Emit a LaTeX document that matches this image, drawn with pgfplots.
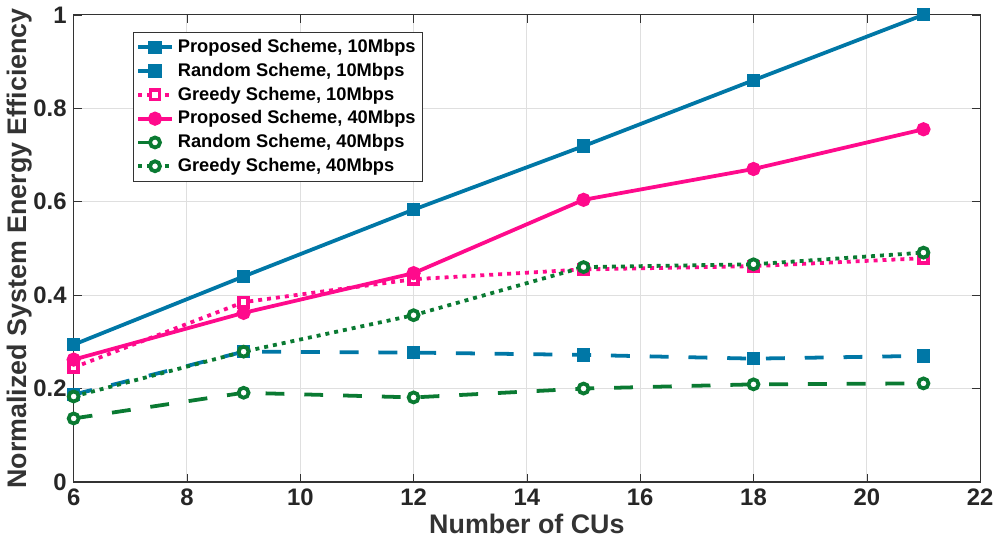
\documentclass[border=0pt]{standalone}
\usepackage{pgfplots}
\pgfplotsset{compat=1.18}
\usepackage{fontspec}
\setmainfont{Liberation Sans}
\definecolor{cblue}{RGB}{0,119,166}
\definecolor{cpink}{RGB}{255,10,140}
\definecolor{cgreen}{RGB}{10,122,50}
\begin{document}
\begin{tikzpicture}
\begin{axis}[
  scale only axis,
  width=456pt, height=235pt,
  xmin=6, xmax=22, ymin=0, ymax=1,
  xtick={6,8,...,22},
  ytick={0,0.2,0.4,0.6,0.8,1},
  yticklabels={0,0.2,0.4,0.6,0.8,1},
  grid=major,
  grid style={gray!25, line width=0.5pt},
  axis line style={black!80, line width=0.6pt},
  tick align=inside,
  major tick length=4pt,
  tick style={black!80},
  /pgf/number format/assume math mode=true,
  ticklabel style={font=\bfseries\fontsize{12}{12}\selectfont, text=black!85},
  xlabel={Number of CUs},
  ylabel={Normalized System Energy Efficiency},
  label style={font=\bfseries\fontsize{13.5}{14}\selectfont, text=black!80},
  xlabel style={yshift=3pt},
  ylabel style={yshift=-6pt},
  legend style={at={(rel axis cs:0.065,0.964)}, anchor=north west,
    font=\bfseries\fontsize{9.2}{11}\selectfont, draw=black!80, line width=0.6pt,
    row sep=-0.2pt, inner sep=1.5pt},
  legend cell align=left,
  every axis plot/.append style={line width=1.9pt},
]
\addplot[cblue, mark=square*, mark size=2.4pt, mark options={solid, fill=cblue}] coordinates {
(6,0.294) (9,0.440) (12,0.583) (15,0.719) (18,0.860) (21,1.0)};
\addlegendentry{Proposed Scheme, 10Mbps}
\addplot[cblue, dash pattern=on 9.5pt off 10pt, mark=square*, mark size=2.4pt, mark options={solid, fill=cblue}] coordinates {
(6,0.187) (9,0.279) (12,0.277) (15,0.272) (18,0.264) (21,0.270)};
\addlegendentry{Random Scheme, 10Mbps}
\addplot[cpink, dash pattern=on 2pt off 2.5pt, mark=square*, mark size=2.3pt, mark options={solid, fill=white, draw=cpink, line width=1.9pt}] coordinates {
(6,0.245) (9,0.385) (12,0.434) (15,0.455) (18,0.462) (21,0.479)};
\addlegendentry{Greedy Scheme, 10Mbps}
\addplot[cpink, mark=*, mark size=2.6pt, mark options={solid, fill=cpink}] coordinates {
(6,0.262) (9,0.362) (12,0.447) (15,0.604) (18,0.670) (21,0.755)};
\addlegendentry{Proposed Scheme, 40Mbps}
\addplot[cgreen, dash pattern=on 9.5pt off 10pt, mark=*, mark size=2.5pt, mark options={solid, fill=white, draw=cgreen, line width=1.9pt}] coordinates {
(6,0.136) (9,0.191) (12,0.181) (15,0.200) (18,0.209) (21,0.211)};
\addlegendentry{Random Scheme, 40Mbps}
\addplot[cgreen, dash pattern=on 2pt off 2.5pt, mark=*, mark size=2.5pt, mark options={solid, fill=white, draw=cgreen, line width=1.9pt}] coordinates {
(6,0.183) (9,0.279) (12,0.357) (15,0.460) (18,0.466) (21,0.491)};
\addlegendentry{Greedy Scheme, 40Mbps}
\end{axis}
\end{tikzpicture}
\end{document}
